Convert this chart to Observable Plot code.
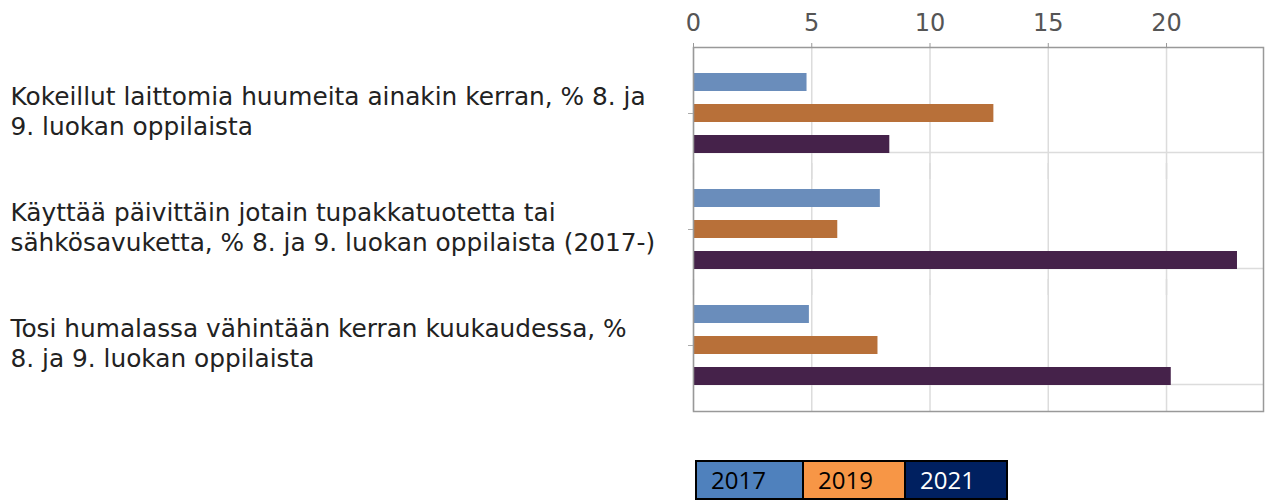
<!DOCTYPE html>
<html>
<head>
<meta charset="utf-8">
<script src="https://cdn.jsdelivr.net/npm/d3@7"></script>
<script src="https://cdn.jsdelivr.net/npm/@observablehq/plot@0.6"></script>
<style>
  body { margin: 0; background: #fff; }
  #legend { display: flex; margin: 20px 0 0 695px; width: fit-content; border: 2px solid #000; font-family: "Open Sans", sans-serif; font-size: 24px; }
  #legend div { height: 36px; line-height: 36px; padding-left: 14px; box-sizing: border-box; }
  #legend div + div { border-left: 2px solid #000; }
</style>
</head>
<body>
<div id="chart"></div>
<div id="legend"></div>
<script>
const categories = [
  "Kokeillut laittomia huumeita ainakin kerran, % 8. ja 9. luokan oppilaista",
  "Käyttää päivittäin jotain tupakkatuotetta tai sähkösavuketta, % 8. ja 9. luokan oppilaista (2017-)",
  "Tosi humalassa vähintään kerran kuukaudessa, % 8. ja 9. luokan oppilaista"
];
const categoryLines = [
  "Kokeillut laittomia huumeita ainakin kerran, % 8. ja\n9. luokan oppilaista",
  "Käyttää päivittäin jotain tupakkatuotetta tai\nsähkösavuketta, % 8. ja 9. luokan oppilaista (2017-)",
  "Tosi humalassa vähintään kerran kuukaudessa, %\n8. ja 9. luokan oppilaista"
];
const years = ["2017", "2019", "2021"];
const values2017 = [4.8, 7.9, 4.9];
const values2019 = [12.7, 6.1, 7.8];
const values2021 = [8.3, 23.0, 20.2];
const xTicks = [0, 5, 10, 15, 20];
const barColors = ["#6a8dbb", "#b87039", "#45224a"];
const legendColors = ["#4f81bd", "#f79646", "#002060"];
const legendTextColors = ["#000000", "#000000", "#ffffff"];
const legendWidths = [105, 102, 102];

const seriesValues = [values2017, values2019, values2021];
const data = categories.flatMap((c, i) => years.map((y, j) => ({category: c, year: y, value: seriesValues[j][i]})));
const lastYear = categories.map(c => ({category: c, year: years[years.length - 1]}));

const chart = Plot.plot({
  width: 1265,
  height: 440,
  marginTop: 55,
  marginLeft: 693,
  marginRight: 2,
  marginBottom: 37,
  style: {fontFamily: "DejaVu Sans", fontSize: "24px", background: "#fff"},
  x: {domain: [0, 24.1], ticks: xTicks},
  y: {domain: years, paddingInner: 0.419, paddingOuter: 0.58, axis: null},
  fy: {domain: categories, padding: 0, axis: null},
  color: {domain: years, range: barColors},
  marks: [
    Plot.ruleX(xTicks, {x: d => d, insetTop: -8, insetBottom: -8, stroke: "#dcdcdc", strokeWidth: 1.5}),
    Plot.ruleY(lastYear, {fy: "category", y: "year", dy: 8, stroke: "#dcdcdc", strokeWidth: 1.5}),
    Plot.barX(data, {fy: "category", y: "year", x: "value", fill: "year"}),
    Plot.frame({facet: "super", insetTop: -8, insetBottom: -8, stroke: "#999", strokeWidth: 1.5}),
    Plot.axisX({anchor: "top", ticks: xTicks, dy: -9, tickSize: 4, tickPadding: 12, stroke: "#999", fill: "#555", fontSize: 24, label: null}),
    Plot.axisFy({anchor: "left", tickSize: 5, stroke: "#aaa", tickFormat: () => "", label: null}),
    Plot.axisFy({anchor: "left", tickSize: 0, tickPadding: 0, fill: "#222", fontSize: 24.8, lineHeight: 1.2,
      textAnchor: "start", dx: -683, dy: -3, label: null,
      tickFormat: d => categoryLines[categories.indexOf(d)]})
  ]
});
document.getElementById("chart").appendChild(chart);

const legend = document.getElementById("legend");
years.forEach((y, i) => {
  const cell = document.createElement("div");
  cell.textContent = y;
  cell.style.background = legendColors[i];
  cell.style.color = legendTextColors[i];
  cell.style.width = legendWidths[i] + "px";
  legend.appendChild(cell);
});
</script>
</body>
</html>
